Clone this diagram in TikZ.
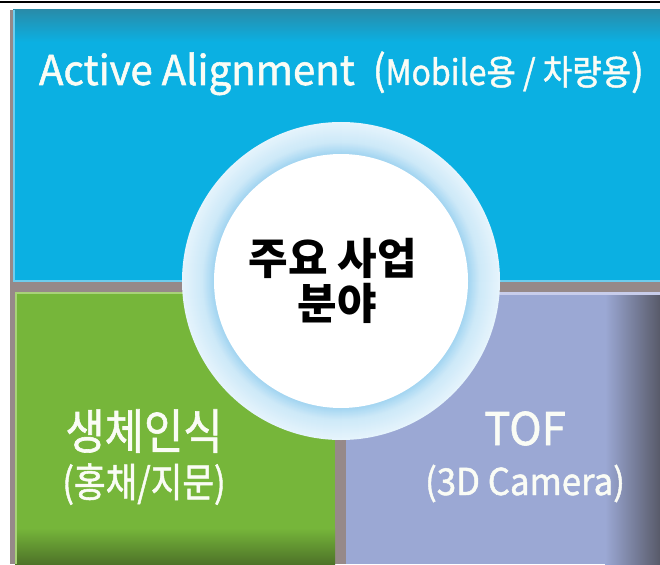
\documentclass[tikz,border=0pt]{standalone}
\usepackage{fontspec}
\setmainfont{Noto Sans CJK KR}
\newfontfamily\medfont[FakeBold=1.3]{Noto Sans CJK KR}
\usepackage{graphicx}
\definecolor{sepgray}{RGB}{150,137,137}
\definecolor{aablue}{RGB}{11,176,226}
\definecolor{aatop}{RGB}{40,140,170}
\definecolor{aaedge}{RGB}{110,205,238}
\definecolor{aagreen}{RGB}{118,182,58}
\definecolor{aagreendark}{RGB}{78,115,40}
\definecolor{greenlight}{RGB}{168,210,120}
\definecolor{aapurple}{RGB}{155,168,212}
\definecolor{purpledark}{RGB}{88,90,105}
\definecolor{purplelight}{RGB}{200,205,235}
\definecolor{ringin}{RGB}{160,212,241}
\definecolor{ringmid}{RGB}{205,233,248}
\definecolor{ringout}{RGB}{230,244,252}
\definecolor{offwhite}{RGB}{250,252,245}
\begin{document}
\begin{tikzpicture}[x=1pt,y=-1pt,
  every node/.style={inner sep=0pt, outer sep=0pt},
  paneltext/.style={text=offwhite, anchor=base},
  centertext/.style={text=black, anchor=base}]
\useasboundingbox (0,0) rectangle (660,564);
\fill[white] (0,0) rectangle (660,564);
\draw[black, line width=2pt] (0,2) -- (660,2);
% gray frame and separators
\fill[sepgray] (10,10) rectangle (13,564);
\fill[sepgray] (10,281) rectangle (660,564);
% blue panel
\fill[aablue] (13,10) rectangle (660,281);
\shade[top color=aatop, bottom color=aablue] (13,10) rectangle (660,42);
\fill[aaedge] (13,10) rectangle (15,281);
\fill[aaedge] (13,279.5) rectangle (660,281.5);
% green panel
\fill[aagreen] (15,292) rectangle (335,564);
\shade[top color=aagreen, bottom color=aagreendark] (15,528) rectangle (335,564);
\fill[greenlight] (15,292) rectangle (335,294);
\fill[greenlight] (15,292) rectangle (17,564);
% purple panel
\fill[aapurple] (346,292) rectangle (660,564);
\shade[left color=aapurple, right color=purpledark] (605,292) rectangle (660,564);
\fill[purplelight] (346,292) rectangle (660,294.5);
% central ring
\coordinate (ctr) at (341,281);
\foreach \i in {0,...,20}{
  \pgfmathsetmacro{\pct}{100*\i/20}
  \fill[ringmid!\pct!ringout] (ctr) circle ({159-\i});
}
\foreach \i in {0,...,12}{
  \pgfmathsetmacro{\pct}{100*\i/12}
  \fill[ringin!\pct!ringmid] (ctr) circle ({139-\i});
}
\fill[white] (ctr) circle (127);
% texts
\node[anchor=base west, text=offwhite] (title) at (39,85)
  {\medfont\fontsize{41}{48}\selectfont \scalebox{0.98}[1]{Active Alignment}\hspace{18pt}\scalebox{0.915}[1]{(\fontsize{35}{40}\selectfont Mobile용 / 차량용\fontsize{41}{48}\selectfont)}};
\node[centertext] (c1) at (333,274) {\fontsize{43}{48}\selectfont\bfseries 주요 사업};
\node[centertext] (c2) at (337,319) {\fontsize{43}{48}\selectfont\bfseries 분야};
\node[paneltext] (bio1) at (144,449) {\scalebox{0.89}[1]{\medfont\fontsize{48}{56}\selectfont 생체인식}};
\node[paneltext] (bio2) at (144,497) {\scalebox{0.86}[1]{\medfont\fontsize{40}{48}\selectfont (홍채/지문)}};
\node[paneltext] (tof1) at (525,445) {\scalebox{0.97}[1]{\medfont\fontsize{45}{52}\selectfont TOF}};
\node[paneltext] (tof2) at (525,495) {\scalebox{0.94}[1]{\medfont\fontsize{37}{44}\selectfont (3D Camera)}};
\end{tikzpicture}
\end{document}
